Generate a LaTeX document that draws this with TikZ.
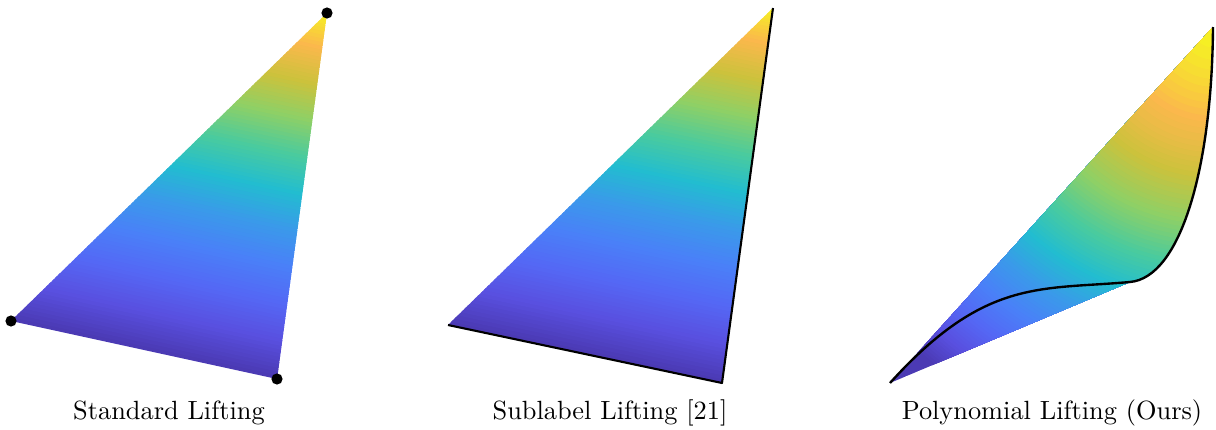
\documentclass[tikz,border=0pt]{standalone}
\usepackage{tikz}
\usetikzlibrary{calc}
% colour stops, bottom (pc0) to top (pc10)
\definecolor{pc0}{HTML}{4B3AB4}
\definecolor{pc1}{HTML}{5950E0}
\definecolor{pc2}{HTML}{5468F5}
\definecolor{pc3}{HTML}{4A80F8}
\definecolor{pc4}{HTML}{3A9AEA}
\definecolor{pc5}{HTML}{22BDD0}
\definecolor{pc6}{HTML}{4ACB9E}
\definecolor{pc7}{HTML}{8ED066}
\definecolor{pc8}{HTML}{CCC23C}
\definecolor{pc9}{HTML}{FBB84C}
\definecolor{pc10}{HTML}{F5F520}
\tikzset{
  liftedge/.style={draw=black, line width=0.8pt, line join=round},
  liftcurve/.style={draw=black, line width=0.9pt},
  liftdot/.style={fill=black},
  caption/.style={font=\normalsize, anchor=base}
}
% #1 left, #2 bottom, #3 top vertex
\newcommand{\shadetri}[3]{
  \foreach \k in {0,...,99}{
    \pgfmathtruncatemacro{\ci}{\k/10}
    \pgfmathtruncatemacro{\cn}{\ci+1}
    \pgfmathtruncatemacro{\cp}{10*(\k-10*\ci)}
    \pgfmathsetmacro{\ta}{\k/100}
    \pgfmathsetmacro{\tb}{min(1,(\k+1.6)/100)}
    \fill[fill={pc\cn!\cp!pc\ci}] ($(#1)!\ta!(#3)$) -- ($(#2)!\ta!(#3)$)
      -- ($(#2)!\tb!(#3)$) -- ($(#1)!\tb!(#3)$) -- cycle;
  }
}

\begin{document}
\begin{tikzpicture}[x=0.013333cm, y=-0.013333cm]
\useasboundingbox (0,0) rectangle (1216,430);
% standard lifting
\coordinate (L1) at (11,321);
\coordinate (B1) at (277,379);
\coordinate (T1) at (327,13);
\shadetri{L1}{B1}{T1}
\foreach \v in {L1,B1,T1}
  \fill[liftdot] (\v) circle[radius=5.6];
\node[caption] (lab1) at (169,419) {Standard Lifting};
% sublabel lifting
\coordinate (L2) at (448,325);
\coordinate (B2) at (722,383);
\coordinate (T2) at (773,8);
\shadetri{L2}{B2}{T2}
\draw[liftedge] (L2) -- (B2) -- (T2);
\node[caption] (lab2) at (610,419) {Sublabel Lifting [21]};
% polynomial lifting
\coordinate (A3) at (890,383);
\coordinate (C3) at (1130,282);
\coordinate (T3) at (1213,27);
\begin{scope}
  \clip (A3) -- (T3) .. controls (1212,170) and (1180,277.6) .. (C3) -- cycle;
  \fill[pc0] (A3) -- (T3) -- (C3) -- cycle;
  \foreach \k in {0,...,99}{
    \pgfmathtruncatemacro{\ci}{\k/10}
    \pgfmathtruncatemacro{\cn}{\ci+1}
    \pgfmathtruncatemacro{\cp}{10*(\k-10*\ci)}
    \pgfmathsetmacro{\rr}{440*pow(1-\k/100,0.6667)}
    \fill[fill={pc\cn!\cp!pc\ci}] (T3) circle[radius=\rr];
  }
\end{scope}
\draw[liftcurve] (A3) .. controls (985,278) and (1040,290) .. (C3)
  .. controls (1180,277.6) and (1212,170) .. (T3);
\node[caption] (lab3) at (1052,419) {Polynomial Lifting (Ours)};
\end{tikzpicture}
\end{document}
